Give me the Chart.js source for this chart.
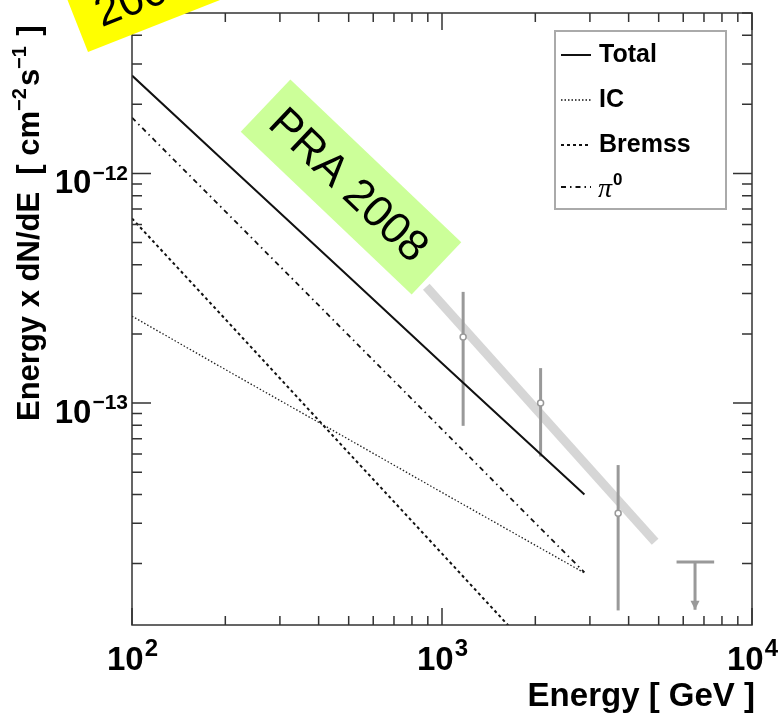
<!DOCTYPE html>
<html>
<head>
<meta charset="utf-8">
<script src="https://cdn.jsdelivr.net/npm/chart.js@4.4.1/dist/chart.umd.min.js"></script>
<style>
  html, body { margin: 0; padding: 0; background: #fff; }
  #wrap { width: 782px; height: 720px; }
</style>
</head>
<body>
<div id="wrap"><canvas id="fluxChart" width="782" height="720"></canvas></div>
<script>
// model curves (GeV, cm^-2 s^-1)
var energies = [100, 200, 500, 1000, 2880];
var totalFlux = [2.67e-12, 1.12e-12, 3.56e-13, 1.49e-13, 4.0e-14];
var icFlux = [2.39e-13, 1.40e-13, 6.95e-14, 4.08e-14, 1.82e-14];
var bremssFlux = [6.37e-13, 2.32e-13, 6.07e-14, 2.21e-14, 4.7e-15];
var pi0Flux = [1.75e-12, 6.84e-13, 1.97e-13, 7.69e-14, 1.83e-14];

// measured points with error bars
var pointEnergy = [1170, 2080, 3700];
var pointFlux = [1.94e-13, 1.0e-13, 3.31e-14];
var pointFluxHigh = [3.05e-13, 1.42e-13, 5.37e-14];
var pointFluxLow = [7.96e-14, 5.85e-14, 1.25e-14];

// upper limit
var limitEnergy = 6550;
var limitEnergyRange = [5710, 7550];
var limitFlux = 2.03e-14;
var limitArrowFlux = 1.26e-14;

// grey fit band
var fitEnergy = [890, 4870];
var fitFlux = [3.21e-13, 2.49e-14];

// axes
var xTicks = [100, 1000, 10000];
var xTickExp = ['2', '3', '4'];
var yTicks = [1e-13, 1e-12];
var yTickExp = ['\u221213', '\u221212'];

var FONT = '"Liberation Sans", Arial, sans-serif';

function pts(xs, ys) {
    return xs.map(function(x, i) { return { x: x, y: ys[i] }; });
}

var datasets = [];

// thick grey band behind everything
datasets.push({
    label: 'fit',
    data: pts(fitEnergy, fitFlux),
    borderColor: '#d6d6d6',
    borderWidth: 9,
    borderCapStyle: 'butt',
    pointRadius: 0,
    order: 10
});

// error bars
pointEnergy.forEach(function(e, i) {
    datasets.push({
        label: 'err' + i,
        data: [{ x: e, y: pointFluxLow[i] }, { x: e, y: pointFluxHigh[i] }],
        borderColor: '#999999',
        borderWidth: 3,
        pointRadius: 0,
        order: 5
    });
});

// upper limit bar + stem
datasets.push({
    label: 'ulBar',
    data: [{ x: limitEnergyRange[0], y: limitFlux }, { x: limitEnergyRange[1], y: limitFlux }],
    borderColor: '#999999', borderWidth: 3, pointRadius: 0, order: 5
});
datasets.push({
    label: 'ulStem',
    data: [{ x: limitEnergy, y: limitFlux }, { x: limitEnergy, y: limitArrowFlux }],
    borderColor: '#999999', borderWidth: 3, pointRadius: 0, order: 5
});

// model lines
datasets.push({ label: 'Total', data: pts(energies, totalFlux), borderColor: '#111', borderWidth: 2, pointRadius: 0, order: 2 });
datasets.push({ label: 'IC', data: pts(energies, icFlux), borderColor: '#222', borderWidth: 1.3, borderDash: [1.5, 2], pointRadius: 0, order: 2 });
datasets.push({ label: 'Bremss', data: pts(energies, bremssFlux), borderColor: '#111', borderWidth: 2, borderDash: [3, 3], pointRadius: 0, order: 2 });
datasets.push({ label: 'pi0', data: pts(energies, pi0Flux), borderColor: '#111', borderWidth: 1.8, borderDash: [5, 4, 1.5, 4], pointRadius: 0, order: 2 });

// measured points markers
datasets.push({
    label: 'points',
    data: pts(pointEnergy, pointFlux),
    showLine: false,
    pointRadius: 3,
    pointBackgroundColor: '#ffffff',
    pointBorderColor: '#999999',
    pointBorderWidth: 1.5,
    order: 1
});

function drawPow(ctx, base, exp, x, y, size, supSize, align) {
    ctx.font = 'bold ' + size + 'px ' + FONT;
    var wb = ctx.measureText(base).width;
    ctx.font = 'bold ' + supSize + 'px ' + FONT;
    var we = ctx.measureText(exp).width;
    var start = align === 'right' ? x - wb - we : x - (wb + we) / 2;
    ctx.textAlign = 'left';
    ctx.textBaseline = 'alphabetic';
    ctx.font = 'bold ' + size + 'px ' + FONT;
    ctx.fillText(base, start, y);
    ctx.font = 'bold ' + supSize + 'px ' + FONT;
    ctx.fillText(exp, start + wb + 1, y - size * 0.42);
}

var framePlugin = {
    id: 'framePlugin',
    afterDraw: function(chart) {
        var ctx = chart.ctx;
        var a = chart.chartArea;
        var xs = chart.scales.x, ys = chart.scales.y;
        ctx.save();

        // upper limit arrow head
        var ax = xs.getPixelForValue(limitEnergy), ay = ys.getPixelForValue(limitArrowFlux);
        ctx.fillStyle = '#999999';
        ctx.beginPath();
        ctx.moveTo(ax - 4.5, ay - 9);
        ctx.lineTo(ax + 4.5, ay - 9);
        ctx.lineTo(ax, ay);
        ctx.closePath();
        ctx.fill();

        // frame
        ctx.strokeStyle = '#333';
        ctx.lineWidth = 1.5;
        ctx.strokeRect(a.left, a.top, a.right - a.left, a.bottom - a.top);

        // ticks (inward, all four sides)
        ctx.beginPath();
        var d, k, v, p, len;
        for (d = 100; d < 10000; d *= 10) {
            for (k = 1; k <= 10; k++) {
                v = d * k;
                if (v > 10000) continue;
                p = xs.getPixelForValue(v);
                len = (k === 1 || k === 10) ? 17 : 9;
                ctx.moveTo(p, a.bottom); ctx.lineTo(p, a.bottom - len);
                ctx.moveTo(p, a.top); ctx.lineTo(p, a.top + len);
            }
        }
        for (d = 1e-14; d < 1e-11; d *= 10) {
            for (k = 1; k <= 9; k++) {
                v = d * k;
                if (v < ys.min || v > ys.max) continue;
                p = ys.getPixelForValue(v);
                len = (k === 1) ? 19 : 10;
                ctx.moveTo(a.left, p); ctx.lineTo(a.left + len, p);
                ctx.moveTo(a.right, p); ctx.lineTo(a.right - len, p);
            }
        }
        ctx.stroke();

        // tick labels
        ctx.fillStyle = '#000';
        xTicks.forEach(function(t, i) {
            drawPow(ctx, '10', xTickExp[i], xs.getPixelForValue(t), a.bottom + 45, 33, 24, 'center');
        });
        yTicks.forEach(function(t, i) {
            drawPow(ctx, '10', yTickExp[i], a.left - 5, ys.getPixelForValue(t) + 20, 33, 21, 'right');
        });

        // x title
        ctx.font = 'bold 33px ' + FONT;
        ctx.textAlign = 'right';
        ctx.textBaseline = 'alphabetic';
        ctx.fillText('Energy [ GeV ]', a.right + 3, 706);

        // y title (rotated)
        ctx.save();
        ctx.translate(39, 421);
        ctx.rotate(-Math.PI / 2);
        var parts = [['Energy x dN/dE  [ cm', 31, 0], ['\u22122', 20, -13], ['s', 31, 0], ['\u22121', 20, -13], [' ]', 31, 0]];
        var cx = 0;
        ctx.textAlign = 'left';
        parts.forEach(function(pt) {
            ctx.font = 'bold ' + pt[1] + 'px ' + FONT;
            ctx.fillText(pt[0], cx, pt[2]);
            cx += ctx.measureText(pt[0]).width + (pt[1] < 31 ? 2 : 0);
        });
        ctx.restore();

        // legend
        ctx.strokeStyle = '#aaa';
        ctx.lineWidth = 2;
        ctx.strokeRect(555, 31, 171, 178);
        var entries = [
            { y: 55, dash: [], w: 2, text: 'Total' },
            { y: 100, dash: [1.5, 2], w: 1.3, text: 'IC' },
            { y: 145, dash: [3, 3], w: 2, text: 'Bremss' },
            { y: 187, dash: [5, 4, 1.5, 4], w: 1.8, text: null }
        ];
        entries.forEach(function(en) {
            ctx.strokeStyle = '#111';
            ctx.lineWidth = en.w;
            ctx.setLineDash(en.dash);
            ctx.beginPath();
            ctx.moveTo(561, en.y); ctx.lineTo(591, en.y);
            ctx.stroke();
            ctx.setLineDash([]);
            ctx.fillStyle = '#000';
            ctx.textBaseline = 'middle';
            ctx.textAlign = 'left';
            if (en.text) {
                ctx.font = 'bold 25px ' + FONT;
                ctx.fillText(en.text, 599, en.y);
            } else {
                ctx.font = 'italic 28px "Liberation Serif", serif';
                ctx.fillText('\u03c0', 598, en.y + 3);
                var wpi = ctx.measureText('\u03c0').width;
                ctx.font = 'bold 17px ' + FONT;
                ctx.fillText('0', 598 + wpi + 1, en.y - 7);
            }
        });

        // green label
        ctx.save();
        ctx.translate(351, 187);
        ctx.rotate(43.6 * Math.PI / 180);
        ctx.fillStyle = '#ccff99';
        ctx.fillRect(-118, -36, 236, 72);
        ctx.fillStyle = '#000';
        ctx.font = '44px ' + FONT;
        ctx.textAlign = 'center';
        ctx.textBaseline = 'middle';
        ctx.fillText('PRA 2008', -3, 2);
        ctx.restore();

        // yellow label (mostly off canvas)
        ctx.save();
        ctx.translate(88, 52);
        ctx.rotate(-21.5 * Math.PI / 180);
        ctx.fillStyle = '#ffff00';
        ctx.fillRect(0, -72, 240, 72);
        ctx.fillStyle = '#000';
        ctx.font = '44px ' + FONT;
        ctx.textAlign = 'left';
        ctx.textBaseline = 'alphabetic';
        ctx.fillText('2007', 22, -18);
        ctx.restore();

        ctx.restore();
    }
};

var chart = new Chart(document.getElementById('fluxChart').getContext('2d'), {
    type: 'line',
    data: { datasets: datasets },
    options: {
        responsive: false,
        animation: false,
        devicePixelRatio: 1,
        layout: { padding: { left: 132, right: 30, top: 13, bottom: 95 } },
        scales: {
            x: { type: 'logarithmic', min: 100, max: 10000, display: false },
            y: { type: 'logarithmic', min: 1.08e-14, max: 5e-12, display: false }
        },
        plugins: {
            legend: { display: false },
            tooltip: { enabled: false }
        }
    },
    plugins: [framePlugin]
});
</script>
</body>
</html>
